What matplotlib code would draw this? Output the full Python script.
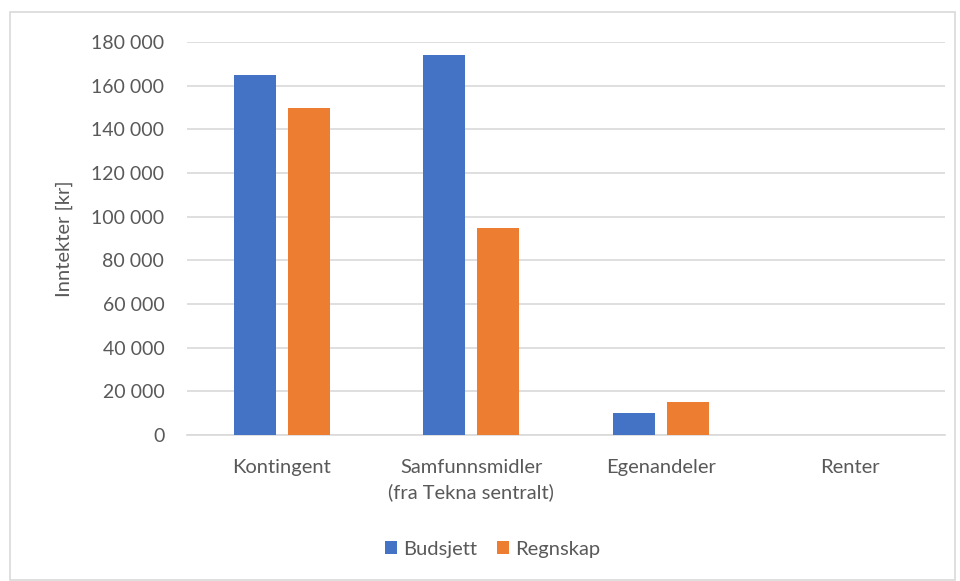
import numpy as np
import matplotlib.pyplot as plt
from matplotlib.patches import Rectangle
from matplotlib.ticker import FuncFormatter

plt.rcParams['font.family'] = ['Lato', 'DejaVu Sans']

categories = ['Kontingent', 'Samfunnsmidler\n(fra Tekna sentralt)', 'Egenandeler', 'Renter']
budsjett = [165000, 174000, 10000, 0]
regnskap = [149500, 95000, 15000, 0]

fig = plt.figure(figsize=(9.6, 5.81), dpi=100)
ax = fig.add_axes([0.195, 0.251, 0.789, 0.677])

x = np.arange(len(categories))
w = 0.222
ax.bar(x - 0.143, budsjett, w, color='#4472C4', label='Budsjett', zorder=3)
ax.bar(x + 0.143, regnskap, w, color='#ED7D31', label='Regnskap', zorder=3)

ax.set_xlim(-0.5, 3.5)
ax.set_ylim(0, 180000)
ax.set_yticks(np.arange(0, 180001, 20000))
ax.yaxis.set_major_formatter(FuncFormatter(lambda v, p: f'{int(v):,}'.replace(',', ' ')))
ax.set_xticks(x)
ax.set_xticklabels(categories, fontsize=14.5, color='#595959', linespacing=1.5)
ax.tick_params(axis='y', labelsize=14, labelcolor='#595959', length=0, pad=16.5)
ax.tick_params(axis='x', length=0, pad=17)
ax.grid(axis='y', color='#D9D9D9', linewidth=1.2, zorder=0)
for s in ['top', 'right', 'left']:
    ax.spines[s].set_visible(False)
ax.spines['bottom'].set_color('#D9D9D9')
ax.spines['bottom'].set_linewidth(1.2)
ax.set_ylabel('Inntekter [kr]', fontsize=14.5, color='#595959', labelpad=13)

fig.legend(loc='center', bbox_to_anchor=(0.513, 0.055), ncol=2, frameon=False,
           fontsize=14.5, handlelength=0.6, handleheight=0.6, columnspacing=1.0,
           handletextpad=0.3, labelcolor='#595959')

fig.patches.append(Rectangle((10 / 960, 1 / 581), 945 / 960, 568 / 581, transform=fig.transFigure,
                             fill=False, edgecolor='#D9D9D9', linewidth=1.2))

fig.savefig('out.png', dpi=100)
